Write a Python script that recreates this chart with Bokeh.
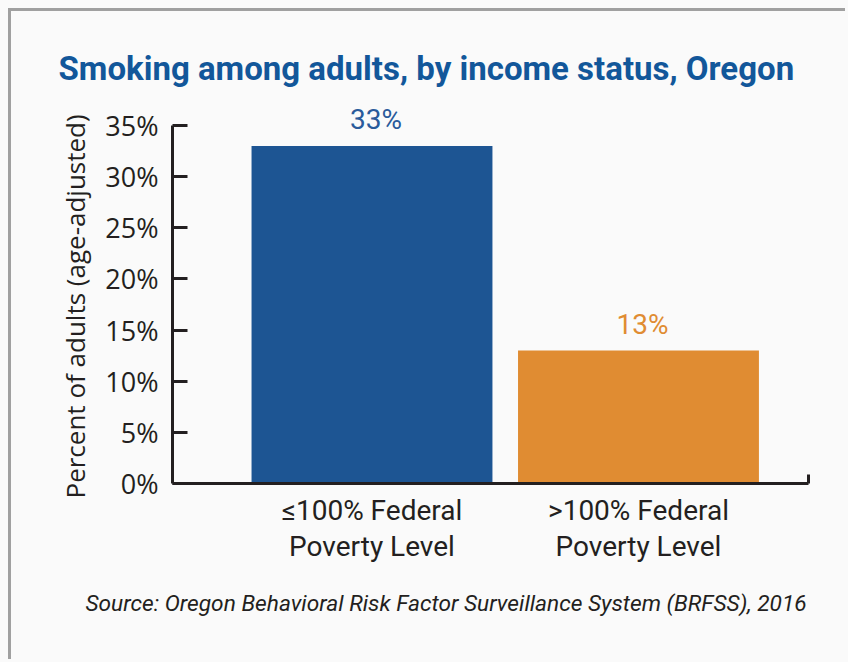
from bokeh.plotting import figure
from bokeh.layouts import column
from bokeh.models import (Range1d, FixedTicker, PrintfTickFormatter, LinearAxis,
                          LabelSet, ColumnDataSource, Title)
from bokeh.core.properties import value
from bokeh.embed import file_html
from bokeh.resources import INLINE

categories = ["≤100% Federal\nPoverty Level", ">100% Federal\nPoverty Level"]
values = [33, 13]
bar_colors = ["#1d5593", "#e08c32"]
label_colors = ["#2a5b9b", "#e08c32"]
y_ticks = [0, 5, 10, 15, 20, 25, 30, 35]
title_text = "Smoking among adults, by income status, Oregon"
y_label = "Percent of adults (age-adjusted)"
source_text = "Source: Oregon Behavioral Risk Factor Surveillance System (BRFSS), 2016"

COND = "Roboto"
INK = "#231f20"
BG = "#fafafa"

PAD, BORDER = 8, 3
W, H = 848 - PAD - BORDER, 662 - PAD - BORDER
OX = OY = PAD + BORDER            # canvas origin in the picture
AXIS_TOP, AXIS_BOTTOM = 125, 483  # where 35% and 0% sit
FRAME_TOP = 100
FL, FT, FW = 172 - OX, FRAME_TOP - OY, 636
FH = AXIS_BOTTOM - FRAME_TOP
y_end = y_ticks[-1] * FH / (AXIS_BOTTOM - AXIS_TOP)

xs = list(range(len(categories)))
src = ColumnDataSource(dict(x=xs, top=values, color=bar_colors, lcolor=label_colors,
                            label=[f"{v}%" for v in values]))

p = figure(width=W, height=H,
           x_range=Range1d(-0.7486, 1.638), y_range=Range1d(0, y_end),
           output_backend="svg", toolbar_location=None,
           min_border_left=FL, min_border_top=FT,
           min_border_right=W - FL - FW, min_border_bottom=H - FT - FH,
           x_axis_type=None, y_axis_type=None)
p.styles = {"border-top": f"{BORDER}px solid #a0a0a0", "border-left": f"{BORDER}px solid #a0a0a0"}
p.background_fill_color = BG
p.border_fill_color = BG
p.outline_line_color = None
p.grid.visible = False

p.vbar(x="x", top="top", width=0.904, bottom=0, color="color", line_color=None, source=src)
p.add_layout(LabelSet(x="x", y="top", text="label", source=src, text_align="center",
                      text_baseline="alphabetic", x_offset=4, y_offset=17,
                      text_font=value(COND), text_font_size=value("28px"),
                      text_color="lcolor"))

yax = LinearAxis(ticker=FixedTicker(ticks=y_ticks), formatter=PrintfTickFormatter(format="%d%%"),
                 bounds=(0, y_ticks[-1]))
yax.axis_line_width = 3
yax.axis_line_color = INK
yax.major_tick_line_width = 3
yax.major_tick_line_color = INK
yax.major_tick_in = 15
yax.major_tick_out = 0
yax.minor_tick_line_color = None
yax.major_label_standoff = 14
yax.major_label_text_font = "Open Sans"
yax.major_label_text_font_size = "27px"
yax.major_label_text_color = INK
p.add_layout(yax, "left")
p.add_layout(Title(text=y_label, align="left", offset=-15, standoff=20,
                   text_font="Open Sans", text_font_style="normal", text_font_size="26px",
                   text_color=INK), "left")

xax = LinearAxis(ticker=FixedTicker(ticks=xs),
                 major_label_overrides={i: c for i, c in zip(xs, categories)})
xax.axis_line_width = 3
xax.axis_line_color = INK
xax.major_tick_line_color = None
xax.minor_tick_line_color = None
xax.major_label_standoff = 4
xax.major_label_text_font = COND
xax.major_label_text_font_size = "28px"
xax.major_label_text_color = INK
xax.major_label_text_line_height = 1.1
p.add_layout(xax, "below")

rax = LinearAxis(ticker=FixedTicker(ticks=[]), bounds=(0, 0.9))
rax.axis_line_width = 3
rax.axis_line_color = INK
rax.major_label_text_font_size = "0px"
p.add_layout(rax, "right")

p.add_layout(Title(text=source_text, align="left", offset=85 - 172, standoff=45,
                   text_font=COND, text_font_style="italic", text_font_size="22.7px",
                   text_color=INK), "below")
p.add_layout(Title(text=title_text, align="left", offset=58 - 172, standoff=25,
                   text_font=COND, text_font_style="bold", text_font_size="33px",
                   text_color="#12579a"), "above")

page = column(p, styles={"padding-left": f"{PAD}px", "padding-top": f"{PAD}px",
                         "background-color": BG})
html = file_html(page, INLINE)
html = html.replace("<head>", f"<head><style>html, body {{ background: {BG}; overflow: hidden; }}</style>", 1)
open("out.html", "w").write(html)
